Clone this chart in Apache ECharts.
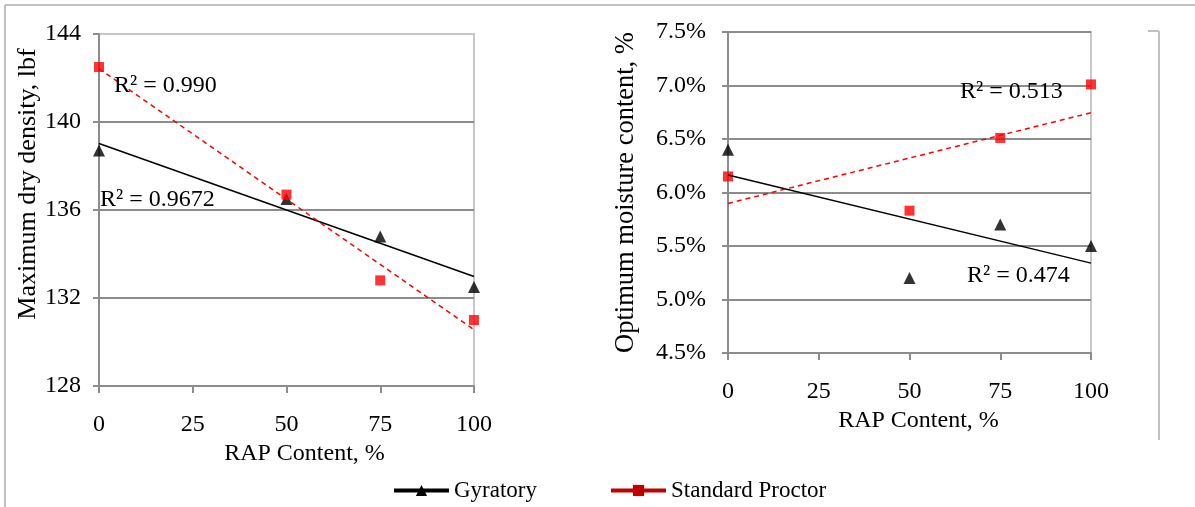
<!DOCTYPE html>
<html>
<head>
<meta charset="utf-8">
<script src="https://cdn.jsdelivr.net/npm/echarts@6/dist/echarts.min.js"></script>
<style>
html,body{margin:0;padding:0;background:#fff;}
#chart{width:1195px;height:507px;}
</style>
</head>
<body>
<div id="chart"></div>
<script>
// ---- data ----
const rapContent = [0, 50, 75, 100];
const densityGyratory = [138.7, 136.5, 134.8, 132.5];
const densityProctor = [142.5, 136.7, 132.8, 131.0];
const moistureGyratory = [6.4, 5.2, 5.7, 5.5];
const moistureProctor = [6.15, 5.83, 6.51, 7.01];
const seriesNames = ['Gyratory', 'Standard Proctor'];
const r2Labels = ['R² = 0.990', 'R² = 0.9672', 'R² = 0.513', 'R² = 0.474'];
const leftYName = 'Maximum dry density, lbf';
const rightYName = 'Optimum moisture content, %';
const xName = 'RAP Content, %';

function pairs(xs, ys){ return xs.map((x,i)=>[x, ys[i]]); }
function trend(xs, ys){
  const n = xs.length;
  const mx = xs.reduce((a,b)=>a+b,0)/n, my = ys.reduce((a,b)=>a+b,0)/n;
  let sxy=0, sxx=0;
  for(let i=0;i<n;i++){ sxy+=(xs[i]-mx)*(ys[i]-my); sxx+=(xs[i]-mx)*(xs[i]-mx); }
  const m = sxy/sxx, b = my - m*mx;
  return [[0, b], [100, b + 100*m]];
}

const FONT = 'Liberation Serif';
const GRID_COLOR = '#8c8c8c';
const AXIS_COLOR = '#8c8c8c';

function xAxisCfg(gridIndex){
  return {
    type:'value', gridIndex, min:0, max:100, interval:25,
    name:xName, nameLocation:'middle', nameGap: gridIndex===0?53:56,
    nameTextStyle:{fontFamily:FONT, fontSize:24, color:'#000', padding: gridIndex===0?[0,0,0,36]:[0,0,0,18]},
    axisLine:{show:true, lineStyle:{color:AXIS_COLOR, width:2}},
    axisTick:{show:true, inside:false, length:7, lineStyle:{color:AXIS_COLOR, width:2}},
    axisLabel:{fontFamily:FONT, fontSize:24, color:'#000', margin:27},
    splitLine:{show:false}
  };
}

const option = {
  backgroundColor:'#fff',
  animation:false,
  textStyle:{fontFamily:FONT},
  legend:{
    left:392, top:479, padding:0, itemGap:72, itemWidth:55, itemHeight:14,
    textStyle:{fontFamily:FONT, fontSize:23, color:'#000'},
    data:[
      {name:seriesNames[0], itemStyle:{color:'#000'}, lineStyle:{color:'#000', width:4, type:'solid'}},
      {name:seriesNames[1], itemStyle:{color:'#c00000'}, lineStyle:{color:'#c00000', width:4, type:'solid'}}
    ]
  },
  grid:[
    {left:99, top:34, width:375, height:352, show:true, borderColor:'#c8c8c8', borderWidth:2, backgroundColor:'transparent'},
    {left:728, top:32, width:363, height:321, show:true, borderColor:'#c8c8c8', borderWidth:2, backgroundColor:'transparent'}
  ],
  xAxis:[xAxisCfg(0), xAxisCfg(1)],
  yAxis:[
    {type:'value', gridIndex:0, min:128, max:144, interval:4,
     name:leftYName, nameLocation:'middle', nameGap:46,
     nameTextStyle:{fontFamily:FONT, fontSize:26, color:'#000', padding:[0,0,0,52]},
     axisLine:{show:true, lineStyle:{color:AXIS_COLOR, width:2}},
     axisTick:{show:true, length:6, lineStyle:{color:AXIS_COLOR, width:2}},
     axisLabel:{fontFamily:FONT, fontSize:24, color:'#000', margin:18},
     splitLine:{show:true, lineStyle:{color:[GRID_COLOR, GRID_COLOR, GRID_COLOR, GRID_COLOR, '#c8c8c8'], width:2}}},
    {type:'value', gridIndex:1, min:4.5, max:7.5, interval:0.5,
     name:rightYName, nameLocation:'middle', nameGap:88,
     nameTextStyle:{fontFamily:FONT, fontSize:26.5, color:'#000'},
     axisLine:{show:true, lineStyle:{color:AXIS_COLOR, width:2}},
     axisTick:{show:true, length:6, lineStyle:{color:AXIS_COLOR, width:2}},
     axisLabel:{fontFamily:FONT, fontSize:24, color:'#000', margin:22, formatter:v=>v.toFixed(1)+'%'},
     splitLine:{show:true, lineStyle:{color:GRID_COLOR, width:2}}}
  ],
  series:[
    // trendlines (line series first so legend icon shows line + marker)
    {name:seriesNames[0], type:'line', xAxisIndex:0, yAxisIndex:0, data:trend(rapContent, densityGyratory),
     symbol:'triangle', symbolSize:12, showSymbol:false, z:5,
     lineStyle:{color:'#000', width:1.5}, itemStyle:{color:'#000'}},
    {name:seriesNames[1], type:'line', xAxisIndex:0, yAxisIndex:0, data:trend(rapContent, densityProctor),
     symbol:'rect', symbolSize:12, showSymbol:false, z:5,
     lineStyle:{color:'#ff0000', width:1.5, type:[5,4]}, itemStyle:{color:'#ff0000'}},
    {name:seriesNames[0], type:'line', xAxisIndex:1, yAxisIndex:1, data:trend(rapContent, moistureGyratory),
     symbol:'triangle', symbolSize:12, showSymbol:false, z:5,
     lineStyle:{color:'#000', width:1.5}, itemStyle:{color:'#000'}},
    {name:seriesNames[1], type:'line', xAxisIndex:1, yAxisIndex:1, data:trend(rapContent, moistureProctor),
     symbol:'rect', symbolSize:12, showSymbol:false, z:5,
     lineStyle:{color:'#ff0000', width:1.5, type:[5,4]}, itemStyle:{color:'#ff0000'}},
    // data points
    {name:seriesNames[0], type:'scatter', xAxisIndex:0, yAxisIndex:0, data:pairs(rapContent, densityGyratory),
     symbol:'triangle', symbolSize:[12,12], itemStyle:{color:'#000'}, z:3},
    {name:seriesNames[1], type:'scatter', xAxisIndex:0, yAxisIndex:0, data:pairs(rapContent, densityProctor),
     symbol:'rect', symbolSize:[10,10], itemStyle:{color:'#ff0000'}, z:4},
    {name:seriesNames[0], type:'scatter', xAxisIndex:1, yAxisIndex:1, data:pairs(rapContent, moistureGyratory),
     symbol:'triangle', symbolSize:[12,12], itemStyle:{color:'#000'}, z:3},
    {name:seriesNames[1], type:'scatter', xAxisIndex:1, yAxisIndex:1, data:pairs(rapContent, moistureProctor),
     symbol:'rect', symbolSize:[10,10], itemStyle:{color:'#ff0000'}, z:4}
  ],
  graphic:[
    {type:'line', shape:{x1:5, y1:5, x2:1195, y2:5}, style:{stroke:'#c0c0c0', lineWidth:2}, silent:true},
    {type:'line', shape:{x1:5, y1:5, x2:5, y2:507}, style:{stroke:'#c0c0c0', lineWidth:2}, silent:true},
    {type:'line', shape:{x1:1148, y1:31, x2:1159, y2:31}, style:{stroke:'#c0c0c0', lineWidth:2}, silent:true},
    {type:'line', shape:{x1:1159, y1:31, x2:1159, y2:440}, style:{stroke:'#c0c0c0', lineWidth:2}, silent:true},
    {type:'text', left:114, top:74, z:10, style:{text:r2Labels[0], font:'24px "Liberation Serif"', fill:'#000'}},
    {type:'text', left:100, top:188, z:10, style:{text:r2Labels[1], font:'24px "Liberation Serif"', fill:'#000'}},
    {type:'text', left:960, top:80, z:10, style:{text:r2Labels[2], font:'24px "Liberation Serif"', fill:'#000'}},
    {type:'text', left:967, top:264, z:10, style:{text:r2Labels[3], font:'24px "Liberation Serif"', fill:'#000'}}
  ]
};

const chart = echarts.init(document.getElementById('chart'), null, {renderer:'canvas'});
chart.setOption(option);
</script>
</body>
</html>
